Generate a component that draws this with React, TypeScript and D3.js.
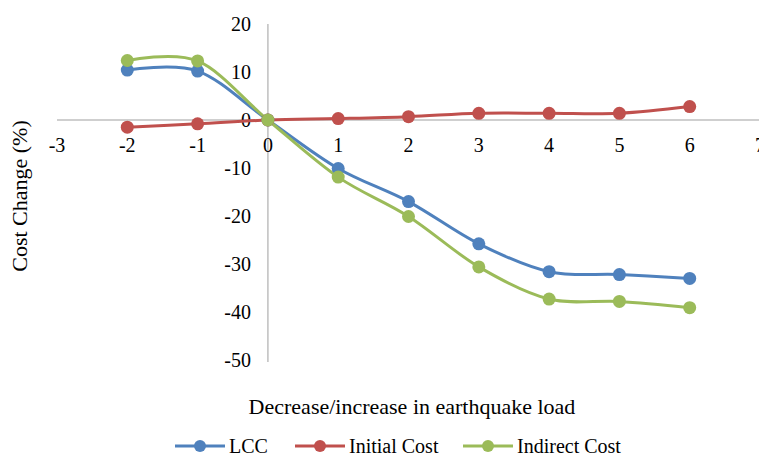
import React, { useEffect, useRef } from 'react'
import * as d3 from 'd3'

// chart data
const loadSteps = [-2, -1, 0, 1, 2, 3, 4, 5, 6]
const lccValues = [10.4, 10.2, 0, -10.1, -17.0, -25.8, -31.6, -32.2, -33.0]
const initialValues = [-1.5, -0.8, 0, 0.3, 0.7, 1.4, 1.4, 1.4, 2.8]
const indirectValues = [12.4, 12.3, 0, -11.9, -20.1, -30.6, -37.3, -37.8, -39.1]
const xTicks = [-3, -2, -1, 0, 1, 2, 3, 4, 5, 6, 7]
const yTicks = [20, 10, 0, -10, -20, -30, -40, -50]

const seriesNames = ['LCC', 'Initial Cost', 'Indirect Cost']
const seriesColors = ['#4F81BD', '#C0504D', '#9BBB59']

const W = 759
const H = 456
const FONT = '"Liberation Serif", "Times New Roman", Times, serif'

export default function App() {
  const svgRef = useRef<SVGSVGElement>(null)

  useEffect(() => {
    const svg = d3.select(svgRef.current)
    svg.selectAll('*').remove()

    const x = d3.scaleLinear().domain([-3, 7]).range([57, 760])
    const y = d3.scaleLinear().domain([-50, 20]).range([360, 24])

    // horizontal axis line at y = 0
    svg.append('line')
      .attr('x1', x(-3)).attr('x2', W)
      .attr('y1', y(0)).attr('y2', y(0))
      .attr('stroke', '#BFBFBF').attr('stroke-width', 1.5)

    // vertical axis line at x = 0
    svg.append('line')
      .attr('x1', x(0)).attr('x2', x(0))
      .attr('y1', y(20)).attr('y2', y(-50) + 2)
      .attr('stroke', '#BFBFBF').attr('stroke-width', 1.5)

    svg.append('g').selectAll('text')
      .data(xTicks)
      .join('text')
      .attr('x', d => x(d))
      .attr('y', y(0) + 32)
      .attr('text-anchor', 'middle')
      .attr('font-family', FONT)
      .attr('font-size', 20)
      .attr('fill', '#000')
      .text(d => String(d))

    svg.append('g').selectAll('text')
      .data(yTicks)
      .join('text')
      .attr('x', x(0) - 17)
      .attr('y', d => y(d) + 7)
      .attr('text-anchor', 'end')
      .attr('font-family', FONT)
      .attr('font-size', 20)
      .attr('fill', '#000')
      .text(d => String(d))

    const allSeries = [lccValues, initialValues, indirectValues]
    const line = d3.line<number>()
      .x((_, i) => x(loadSteps[i]))
      .y(d => y(d))
      .curve(d3.curveCardinal.tension(0))

    allSeries.forEach((vals, si) => {
      svg.append('path')
        .datum(vals)
        .attr('d', line)
        .attr('fill', 'none')
        .attr('stroke', seriesColors[si])
        .attr('stroke-width', 3)
        .attr('stroke-linejoin', 'round')
    })

    allSeries.forEach((vals, si) => {
      svg.append('g').selectAll('circle')
        .data(vals)
        .join('circle')
        .attr('cx', (_, i) => x(loadSteps[i]))
        .attr('cy', d => y(d))
        .attr('r', 6.5)
        .attr('fill', seriesColors[si])
    })

    // axis titles
    svg.append('text')
      .attr('x', 412)
      .attr('y', 414)
      .attr('text-anchor', 'middle')
      .attr('font-family', FONT)
      .attr('font-size', 22)
      .attr('fill', '#000')
      .text('Decrease/increase in earthquake load')

    svg.append('text')
      .attr('transform', 'translate(27,196) rotate(-90)')
      .attr('text-anchor', 'middle')
      .attr('font-family', FONT)
      .attr('font-size', 22)
      .attr('fill', '#000')
      .text('Cost Change (%)')

    // legend
    const legendX = [175, 295, 463]
    seriesNames.forEach((name, i) => {
      const g = svg.append('g').attr('transform', `translate(${legendX[i]},446)`)
      g.append('line')
        .attr('x1', 0).attr('x2', 50)
        .attr('y1', 0).attr('y2', 0)
        .attr('stroke', seriesColors[i]).attr('stroke-width', 3)
      g.append('circle').attr('cx', 25).attr('cy', 0).attr('r', 6).attr('fill', seriesColors[i])
      g.append('text')
        .attr('x', 54)
        .attr('y', 7)
        .attr('font-family', FONT)
        .attr('font-size', 20)
        .attr('fill', '#000')
        .text(name)
    })
  }, [])

  return (
    <svg
      ref={svgRef}
      width={W}
      height={H}
      style={{ position: 'absolute', left: 0, top: 0, background: '#fff' }}
    />
  )
}
